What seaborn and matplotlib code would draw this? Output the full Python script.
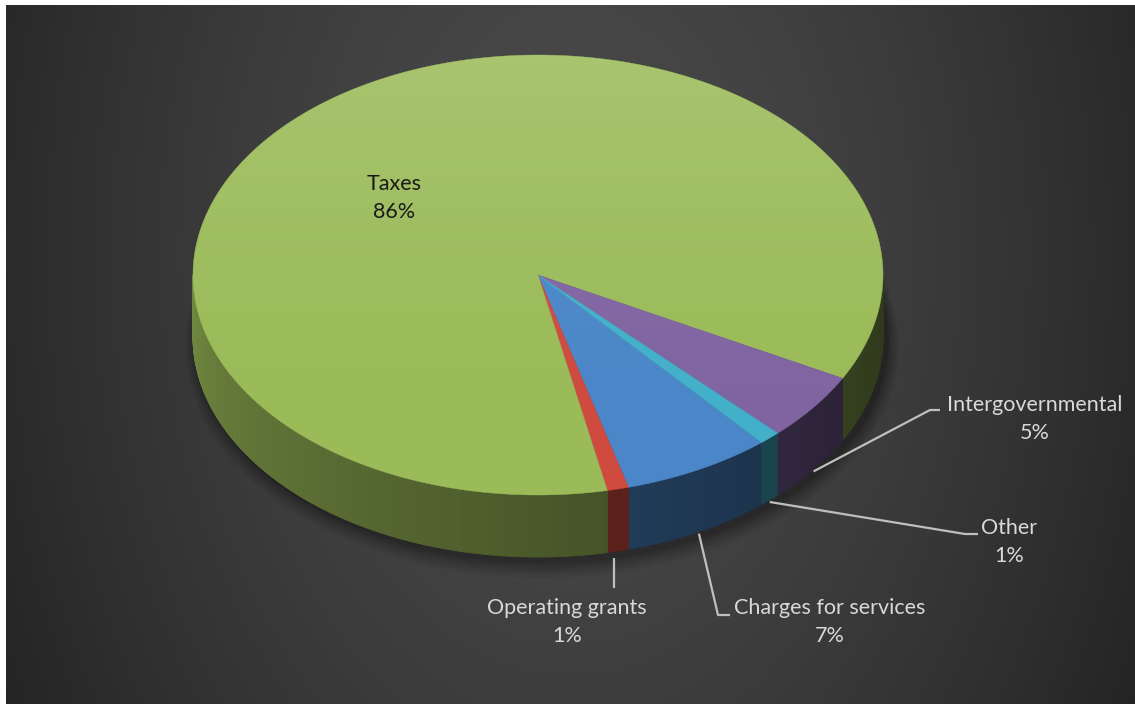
import numpy as np
import matplotlib
matplotlib.use("Agg")
import matplotlib.pyplot as plt
from matplotlib.patches import Polygon, Ellipse
from matplotlib.collections import PolyCollection
import matplotlib.colors as mcolors
import seaborn as sns

# ---------------- data ----------------
categories = ["Charges for services", "Operating grants", "Taxes", "Intergovernmental", "Other"]
values = [7, 1, 86, 5, 1]
pct_labels = ["7%", "1%", "86%", "5%", "1%"]
top_colors = ["#4A86C8", "#CF4A3F", "#9BBB59", "#8064A2", "#43B0C9"]

# ---------------- style ----------------
sns.set_theme(style="dark")
plt.rcParams["font.family"] = ["Lato", "DejaVu Sans"]

W, H = 1135, 704
fig = plt.figure(figsize=(W / 100, H / 100), dpi=100, facecolor="white")
ax = fig.add_axes([0, 0, 1, 1])
ax.set_xlim(0, W)
ax.set_ylim(H, 0)
ax.axis("off")

# background gradient
gx = np.linspace(6, W, 400)
gy = np.linspace(5, H, 300)
X, Y = np.meshgrid(gx, gy)
r = np.sqrt(((X - 570) / 600) ** 2 + ((Y - 250) / 900) ** 2)
lum = (74 - 34 * np.clip(r, 0, 1.2) ** 1.5) / 255.0
bg = np.dstack([lum, lum, lum])
ax.imshow(bg, extent=(6, W, H, 5), aspect="auto", zorder=0, interpolation="bilinear")

# pie geometry (layout)
CX, CY, RX, RY, DEPTH = 538, 275, 345, 220, 62
FIRST_ANGLE = 49.6  # screen degrees, clockwise from 3 o'clock

total = float(sum(values))
spans = [v / total * 360.0 for v in values]
starts = FIRST_ANGLE + np.concatenate([[0], np.cumsum(spans)[:-1]])


def pt(t, dz=0.0):
    tr = np.radians(t)
    return CX + RX * np.cos(tr), CY + RY * np.sin(tr) + dz


# shadow beneath the pie
for k, a in zip(range(6), [0.10, 0.08, 0.07, 0.06, 0.05, 0.04]):
    e = Ellipse((CX + 4, CY + DEPTH + 4 + k), 2 * (RX + 2 + 2 * k), 2 * (RY + 2 + 2 * k),
                facecolor="black", edgecolor="none", alpha=a, zorder=1)
    ax.add_patch(e)


def side_factor(t):
    tt = t % 360
    return 0.31 + 0.42 * (tt / 180.0) ** 1.3


# side walls
polys, cols = [], []
for s, sp, c in zip(starts, spans, top_colors):
    base = np.array(mcolors.to_rgb(c))
    n = max(2, int(sp / 0.5))
    ts = np.linspace(s, s + sp, n + 1)
    for a, b in zip(ts[:-1], ts[1:]):
        m = (a + b) / 2 % 360
        if not (0 < m < 180):
            continue
        x1, y1 = pt(a)
        x2, y2 = pt(b)
        polys.append([(x1, y1), (x2, y2), (x2, y2 + DEPTH), (x1, y1 + DEPTH)])
        cols.append(np.clip(base * side_factor(m), 0, 1))
pc = PolyCollection(polys, facecolors=cols, edgecolors=cols, linewidths=0.6, zorder=2)
ax.add_collection(pc)

# top faces
for s, sp, c in zip(starts, spans, top_colors):
    ts = np.linspace(s, s + sp, max(3, int(sp * 2)))
    pts = [(CX, CY)] + [pt(t) for t in ts]
    ax.add_patch(Polygon(pts, closed=True, facecolor=c, edgecolor=c, linewidth=0.3, zorder=3))

# subtle highlight on top surface
hy = np.linspace(0, 1, 200)[:, None] * np.ones((1, 10))
hl = np.zeros((200, 10, 4))
hl[..., :3] = 1.0
hl[..., 3] = 0.14 * (1 - hy) ** 2
clip = Ellipse((CX, CY), 2 * RX, 2 * RY, transform=ax.transData)
im = ax.imshow(hl, extent=(CX - RX, CX + RX, CY + RY, CY - RY), aspect="auto", zorder=4)
im.set_clip_path(clip)

# labels
label_cfg = {
    "Charges for services": dict(pos=(830, 622), elbow=[(718, 615), (730, 615)]),
    "Operating grants": dict(pos=(567, 622), elbow=[None, (0, 588)]),
    "Intergovernmental": dict(pos=(1035, 419), elbow=[(930, 410), (940, 410)]),
    "Other": dict(pos=(1009, 542), elbow=[(965, 534), (978, 534)]),
}
txt_color = "#D9D9D9"
FS = 15.5
for cat, p, s, sp in zip(categories, pct_labels, starts, spans):
    mid = s + sp / 2
    if cat == "Taxes":
        ax.text(394, 198, f"{cat}\n{p}", ha="center", va="center", fontsize=FS,
                color="#1A1A1A", linespacing=1.55, zorder=6)
        continue
    cfg = label_cfg[cat]
    ax_, ay_ = pt(mid, DEPTH + 2)
    if cat == "Operating grants":
        xs = [ax_ - 4, ax_ - 4]
        ys = [ay_ + 5, cfg["elbow"][1][1]]
    else:
        xs = [ax_, cfg["elbow"][0][0], cfg["elbow"][1][0]]
        ys = [ay_, cfg["elbow"][0][1], cfg["elbow"][1][1]]
    ax.plot(xs, ys, color="#BFBFBF", lw=1.6, zorder=5, solid_capstyle="butt")
    ax.text(cfg["pos"][0], cfg["pos"][1], f"{cat}\n{p}", ha="center", va="center",
            fontsize=FS, color=txt_color, linespacing=1.45, zorder=6)

fig.savefig("out.png", dpi=100, facecolor="white")
